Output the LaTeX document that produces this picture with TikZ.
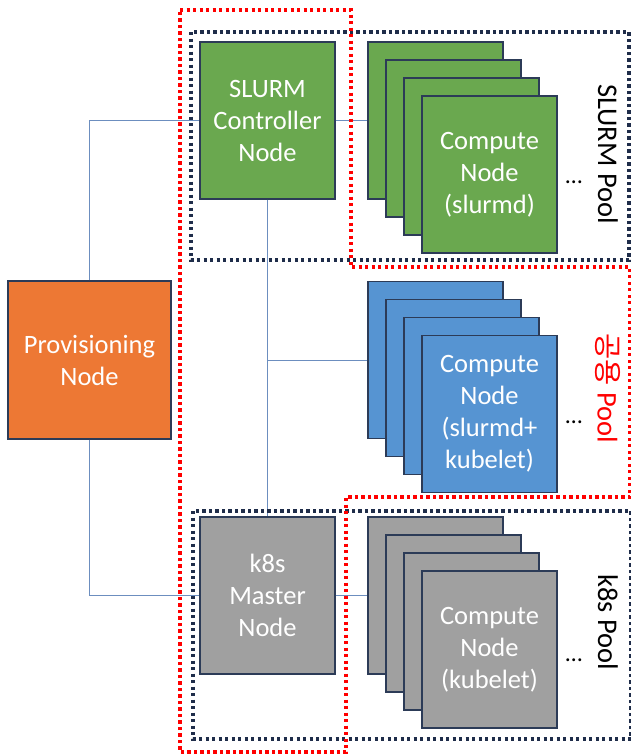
\documentclass[tikz,border=0pt]{standalone}
\usepackage{fontspec}
\setmainfont{Carlito}
\newfontfamily\krfont{Noto Sans CJK KR}
\definecolor{slurmGreen}{HTML}{6AA84F}
\definecolor{sharedBlue}{HTML}{5694D2}
\definecolor{k8sGray}{HTML}{A0A0A0}
\definecolor{provOrange}{HTML}{ED7834}
\definecolor{boxEdge}{HTML}{2C3B57}
\definecolor{wireBlue}{HTML}{6C8EBF}
\definecolor{poolNavy}{HTML}{1F2D4A}
\begin{document}
\begin{tikzpicture}
[x=1pt,y=-1pt,%
  nodeBox/.style={shape=rectangle,draw=boxEdge,line width=1.2pt,minimum width=135pt,minimum height=157pt,inner sep=0pt,align=center,text=white,font=\fontsize{26.5}{32}\selectfont},%
  wireLine/.style={-,line width=0.8pt,color=wireBlue},%
  poolLine/.style={line width=3.3pt,color=poolNavy,dash pattern=on 3.3pt off 3.2pt},%
  sharedLine/.style={line width=3.3pt,color=red,dash pattern=on 3.3pt off 3.2pt},%
  poolText/.style={rotate=-90,font=\fontsize{28.5}{32}\selectfont}]
\useasboundingbox (0,0) rectangle (631,755);
%% provisioning and master nodes
\node (prov) at (89.5,360) [nodeBox,fill=provOrange,minimum width=163pt,minimum height=158pt] {Provisioning\\Node};
\node (ctrl) at (267.5,120.5) [nodeBox,fill=slurmGreen] {SLURM\\Controller\\Node};
\node (master) at (267.5,595.5) [nodeBox,fill=k8sGray] {k8s\\Master\\Node};
%% compute node stacks (back cards)
\foreach \pool/\y/\fillcolor in {slurm/120.5/slurmGreen, shared/360/sharedBlue, k8s/595.5/k8sGray}
{
  \foreach \i in {1,2,3}
  {
    \node (\pool\i) at ({435.5+18*(\i-1)},{\y+18*(\i-1)}) [nodeBox,fill=\fillcolor] {};
  }
}
%% front cards
\node (slurm4) at (489.5,174.5) [nodeBox,fill=slurmGreen] {Compute\\Node\\(slurmd)};
\node (shared4) at (489.5,414) [nodeBox,fill=sharedBlue] {Compute\\Node\\(slurmd+\\kubelet)};
\node (k8s4) at (489.5,649.5) [nodeBox,fill=k8sGray] {Compute\\Node\\(kubelet)};
%% more nodes
\foreach \nodename/\y in {slurmMore/182, sharedMore/422, k8sMore/660}
{
  \node (\nodename) at (574,\y) [font=\fontsize{24}{32}\selectfont] {…};
}
%% pool labels
\node (slurmPool) at (608,154) [poolText] {SLURM Pool};
\node (sharedPool) at (608,388) [poolText,text=red] {{\krfont 공용} Pool};
\node (k8sPool) at (608,622) [poolText] {k8s Pool};
%% wires
\coordinate (tap) at (ctrl.south |- shared1.west);
\draw[wireLine] (prov.north) |- (ctrl.west);
\draw[wireLine] (prov.south) |- (master.west);
\path
\foreach \startnode/\endnode in {ctrl/slurm1, master/k8s1, ctrl/master, tap/shared1}
{
  (\startnode) edge[wireLine] node {} (\endnode)
};
%% pool outlines
\draw[poolLine] (191,32) rectangle (629,260);
\draw[poolLine] (193,511) rectangle (631,739);
\draw[sharedLine] (180,10) -- (351,10) -- (351,267) -- (630,267) -- (630,497) -- (346,497) -- (346,752) -- (180,752) -- cycle;
\end{tikzpicture}
\end{document}
